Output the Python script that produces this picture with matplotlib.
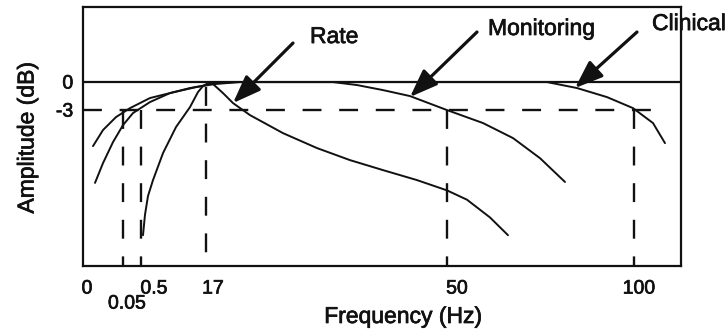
import matplotlib
matplotlib.use("Agg")
import matplotlib.pyplot as plt
import matplotlib.transforms as mtransforms
import matplotlib.patheffects as pe

plt.rcParams['font.family'] = ['Liberation Sans', 'DejaVu Sans']

# x is a position along the (non-linear) frequency axis, y is amplitude in dB
clinical_x = [10, 20, 33, 47, 67, 87, 107, 118, 132, 152, 464, 494, 524, 550, 570, 582]
clinical_y = [-6.86, -5.14, -3.75, -2.79, -1.71, -1.18, -0.64, -0.43, -0.11, 0.0,
              0.0, -0.64, -1.61, -2.79, -4.39, -6.54]

monitoring_x = [12, 20, 30, 40, 50, 67, 87, 113, 132, 157, 250, 274, 300, 327, 364,
                400, 430, 457, 482]
monitoring_y = [-10.8, -8.68, -6.43, -4.61, -3.32, -2.14, -1.18, -0.54, -0.21, 0.0,
                0.0, -0.32, -0.86, -1.5, -3.0, -4.39, -6.0, -8.15, -10.7]

rate_x = [60, 62, 65, 70, 80, 93, 107, 115, 120, 125, 130, 140, 150, 167, 200, 234, 267,
          300, 334, 364, 384, 407, 425]
rate_y = [-16.4, -14.2, -12.2, -10.5, -7.61, -4.82, -2.68, -1.07, -0.43, -0.11, -0.21,
          -1.18, -2.25, -3.54, -5.47, -7.07, -8.36, -9.43, -10.5, -11.6, -12.6, -14.5,
          -16.4]

# cutoff frequencies (label, axis position)
cutoff_labels = ['0.05', '0.5', '50', '100']
cutoff_pos = [40, 58, 364, 551]
rate_center_label = '17'
rate_center_pos = 123

tick_labels = ['0', '0.05', '0.5', '17', '50', '100']
tick_label_pos = [4, 44, 71, 130, 374, 556]
tick_label_row = [0, 1, 0, 0, 0, 0]

filter_names = ['Rate', 'Monitoring', 'Clinical']
arrow_tips = [(150, -2.25), (327, -1.6), (492, -0.64)]
arrow_tails = [(210, 4.18), (394, 5.36), (554, 5.36)]
name_pos = [(227, 4.18), (405, 5.04), (569, 5.57)]

ymin, ymax = -19.7, 8.04
fs = 16.5
ink = '#111111'
thick = [pe.withStroke(linewidth=0.5, foreground=ink)]

fig = plt.figure(figsize=(7.27, 3.32), dpi=100)
ax = fig.add_axes([83 / 727, 1 - 266 / 332, 598 / 727, 259 / 332])
ax.set_xlim(0, 598)
ax.set_ylim(ymin, ymax)

# filter responses
for xs, ys in [(clinical_x, clinical_y), (monitoring_x, monitoring_y), (rate_x, rate_y)]:
    ax.plot(xs, ys, color=ink, lw=1.4, solid_capstyle='round', solid_joinstyle='round')

# 0 dB reference and -3 dB dashed line
ax.axhline(0, color=ink, lw=1.6)
ax.plot([0, 579], [-3, -3], color=ink, lw=1.7, dashes=(8, 7.5))

# dashed cutoff lines
for pos in cutoff_pos:
    ax.plot([pos, pos], [-3, ymin], color=ink, lw=1.7, dashes=(8, 7.5))
ax.plot([rate_center_pos, rate_center_pos], [-0.5, ymin], color=ink, lw=1.7,
        dashes=(8, 7.5))

# arrows + names
for name, tip, tail, npos in zip(filter_names, arrow_tips, arrow_tails, name_pos):
    ax.annotate('', xy=tip, xytext=tail,
                arrowprops=dict(arrowstyle='-|>,head_length=0.85,head_width=0.32',
                                mutation_scale=20, lw=2.3, color=ink,
                                shrinkA=0, shrinkB=0))
    ax.text(npos[0], npos[1], name, fontsize=fs, color=ink, ha='left',
            va='baseline', clip_on=False, path_effects=thick)

# axes styling
for sp in ax.spines.values():
    sp.set_linewidth(1.6)
    sp.set_color(ink)
ax.set_xticks([])
ax.set_yticks([0, -3])
ax.set_yticklabels(['0', '-3'], fontsize=14, color=ink)
for lab in ax.get_yticklabels():
    lab.set_path_effects(thick)
ax.tick_params(axis='y', length=0, pad=7)

# frequency labels under the axis
trans = mtransforms.blended_transform_factory(ax.transData, ax.transAxes)
for lab, pos, row in zip(tick_labels, tick_label_pos, tick_label_row):
    ax.text(pos, -0.089 - 0.058 * row, lab, transform=trans, fontsize=14,
            color=ink, ha='center', va='center', path_effects=thick)

fig.text(403 / 727, 1 - 323 / 332, 'Frequency (Hz)', fontsize=fs, color=ink,
         ha='center', va='baseline', path_effects=thick)
fig.text(27 / 727, 1 - 138 / 332, 'Amplitude (dB)', fontsize=fs, color=ink,
         ha='center', va='center', rotation=90, path_effects=thick)

fig.savefig('out.png', dpi=100)
